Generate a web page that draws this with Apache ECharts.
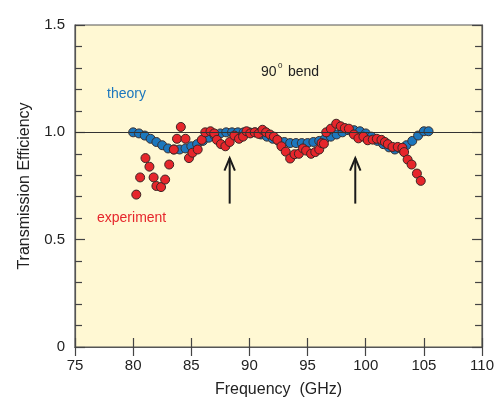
<!DOCTYPE html>
<html>
<head>
<meta charset="utf-8">
<script src="https://cdn.jsdelivr.net/npm/echarts@6/dist/echarts.min.js"></script>
<style>
html,body{margin:0;padding:0;background:#fff;}
#c{width:497px;height:404px;}
</style>
</head>
<body>
<div id="c"></div>
<script>
// ---- data ----
const theoryFreq = [80,80.5,81,81.5,82,82.5,83,83.5,84,84.5,85,85.5,86,86.5,87,87.5,88,88.5,89,89.5,90,90.5,91,91.5,92,92.5,93,93.5,94,94.5,95,95.5,96,96.5,97,97.5,98,98.5,99,99.5,100,100.5,101,101.5,102,102.5,103,103.5,104,104.5,105,105.4];
const theoryVals = [1.0,0.995,0.985,0.97,0.955,0.94,0.925,0.92,0.92,0.925,0.935,0.945,0.96,0.975,0.985,0.995,1.0,1.0,1.0,1.0,1.0,1.0,0.99,0.98,0.97,0.96,0.955,0.95,0.95,0.95,0.95,0.955,0.96,0.97,0.98,0.99,1.0,1.01,1.01,1.005,0.995,0.98,0.96,0.945,0.93,0.92,0.925,0.94,0.96,0.985,1.005,1.005];

const expFreq = [80.27,80.6,81.06,81.4,81.76,82.0,82.4,82.75,83.1,83.5,83.77,84.1,84.5,84.8,85.1,85.55,85.9,86.2,86.65,86.97,87.2,87.55,87.93,88.3,88.7,89.1,89.45,89.75,90.07,90.45,90.78,91.12,91.43,91.76,92.1,92.4,92.75,93.12,93.5,93.88,94.25,94.6,94.87,95.3,95.66,96.0,96.2,96.4,96.6,97.0,97.46,97.85,98.2,98.55,98.98,99.37,99.8,100.17,100.6,100.95,101.35,101.65,101.9,102.3,102.75,103.15,103.3,103.6,103.94,104.4,104.73];
const expVals = [0.71,0.79,0.88,0.84,0.79,0.75,0.745,0.78,0.85,0.92,0.97,1.025,0.97,0.88,0.905,0.92,0.965,1.0,1.005,0.995,0.965,0.945,0.935,0.955,0.985,0.97,0.98,1.005,0.995,1.0,0.993,1.012,1.0,0.99,0.98,0.965,0.935,0.91,0.878,0.898,0.9,0.925,0.915,0.9,0.908,0.92,0.95,0.947,1.0,1.017,1.04,1.028,1.02,1.017,0.99,0.972,0.98,0.963,0.966,0.97,0.965,0.955,0.945,0.932,0.932,0.928,0.908,0.873,0.85,0.808,0.774];

const arrowFreqs = [88.3, 99.1];
const arrowBottom = 0.668, arrowTop = 0.88;
const referenceLevel = 1.0;
const yTickLabels = {0:'0', 0.5:'0.5', 1:'1.0', 1.5:'1.5'};

// ---- build ----
const theoryData = theoryFreq.map((f,i)=>[f, theoryVals[i]]);
const expData = expFreq.map((f,i)=>[f, expVals[i]]);

const FONT = 'Liberation Sans, Arial, sans-serif';
const BLUE = '#1c77bd', RED = '#e6262b';

const arrowSeries = [];
arrowFreqs.forEach(f => {
  arrowSeries.push({
    type:'line', data:[[f, arrowBottom],[f, arrowTop]], symbol:'none', silent:true,
    lineStyle:{color:'#1a1a1a', width:2}, z:1
  });
  arrowSeries.push({
    type:'line', data:[[f-0.45, arrowTop-0.058],[f, arrowTop],[f+0.45, arrowTop-0.058]], symbol:'none', silent:true,
    lineStyle:{color:'#1a1a1a', width:2, join:'miter'}, z:1
  });
});

const chart = echarts.init(document.getElementById('c'), null, {renderer:'canvas'});
const axisLine = {show:true, lineStyle:{color:'#555', width:1.2}};
chart.setOption({
  animation:false,
  grid:{left:75, right:8, top:25, bottom:57, show:true, backgroundColor:'#fff8d3', borderColor:'#555', borderWidth:1.2},
  xAxis:[{
    type:'value', min:75, max:110, interval:5,
    axisLine:axisLine, splitLine:{show:false},
    axisTick:{inside:true, length:9, lineStyle:{color:'#444', width:1.2}},
    axisLabel:{color:'#222', fontSize:15, fontFamily:FONT, margin:11},
    name:'Frequency  (GHz)', nameLocation:'middle', nameGap:35,
    nameTextStyle:{color:'#222', fontSize:16, fontFamily:FONT}
  },{
    type:'value', min:75, max:110, interval:5, position:'top',
    axisLine:axisLine, splitLine:{show:false},
    axisTick:{inside:true, length:9, lineStyle:{color:'#444', width:1.2}},
    axisLabel:{show:false}
  }],
  yAxis:[{
    type:'value', min:0, max:1.5, interval:0.5,
    axisLine:axisLine, splitLine:{show:false},
    axisTick:{inside:true, length:10, lineStyle:{color:'#444', width:1.2}},
    minorTick:{show:true, splitNumber:5, length:7, lineStyle:{color:'#444', width:1.2}},
    axisLabel:{color:'#222', fontSize:15, fontFamily:FONT, margin:10,
      formatter:v => yTickLabels[v] !== undefined ? yTickLabels[v] : ''},
    name:'Transmission Efficiency', nameLocation:'middle', nameGap:42,
    nameTextStyle:{color:'#222', fontSize:16, fontFamily:FONT}
  },{
    type:'value', min:0, max:1.5, interval:0.5, position:'right',
    axisLine:axisLine, splitLine:{show:false},
    axisTick:{inside:true, length:10, lineStyle:{color:'#444', width:1.2}},
    minorTick:{show:true, splitNumber:5, length:7, lineStyle:{color:'#444', width:1.2}},
    axisLabel:{show:false}
  }],
  series:[
    {
      type:'line', data:[], symbol:'none', silent:true,
      markLine:{silent:true, symbol:'none', label:{show:false},
        lineStyle:{color:'#333', width:1.2, type:'solid'},
        data:[{yAxis:referenceLevel}]}
    },
    ...arrowSeries,
    {
      name:'theory', type:'scatter', data:theoryData, symbol:'circle', symbolSize:9,
      itemStyle:{color:BLUE, borderColor:'#3a3030', borderWidth:1, opacity:1}, z:3
    },
    {
      name:'experiment', type:'scatter', data:expData, symbol:'circle', symbolSize:9,
      itemStyle:{color:RED, borderColor:'#3a2525', borderWidth:1, opacity:1}, z:4
    }
  ],
  graphic:[
    {type:'text', left:107, top:87, style:{text:'theory', fill:BLUE, fontSize:14, fontFamily:FONT}},
    {type:'text', left:97, top:211, style:{text:'experiment', fill:RED, fontSize:14, fontFamily:FONT}},
    {type:'text', left:261, top:65, style:{text:'90', fill:'#222', fontSize:14, fontFamily:FONT}},
    {type:'text', left:278, top:62, style:{text:'0', fill:'#222', fontSize:8, fontFamily:FONT}},
    {type:'text', left:288, top:65, style:{text:'bend', fill:'#222', fontSize:14, fontFamily:FONT}}
  ]
});
</script>
</body>
</html>
